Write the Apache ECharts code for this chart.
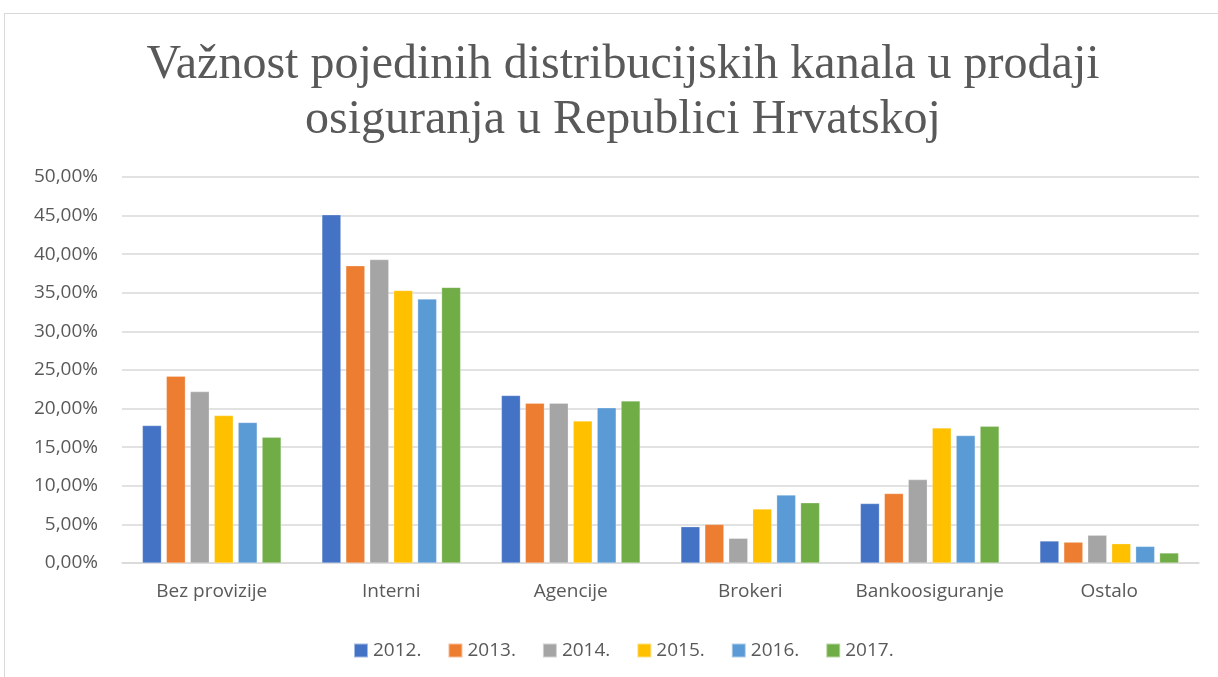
<!DOCTYPE html>
<html>
<head>
<meta charset="utf-8">
<title>Važnost distribucijskih kanala</title>
<script src="https://cdn.jsdelivr.net/npm/echarts@6/dist/echarts.min.js"></script>
<style>
  html, body { margin: 0; padding: 0; background: #fff; }
  #frame { position: absolute; left: 4px; top: 13px; width: 1214px; height: 664px;
    border-left: 1px solid #d9d9d9; border-top: 1px solid #d9d9d9; box-sizing: border-box; }
  #chart { position: absolute; left: 0; top: 0; width: 1218px; height: 677px; }
</style>
</head>
<body>
<div id="frame"></div>
<div id="chart"></div>
<script>
// kanali prodaje
var categories = ['Bez provizije', 'Interni', 'Agencije', 'Brokeri', 'Bankoosiguranje', 'Ostalo']
var years = ['2012.', '2013.', '2014.', '2015.', '2016.', '2017.']
var colors = ['#4472c4', '#ed7d31', '#a5a5a5', '#ffc000', '#5b9bd5', '#70ad47']

// udio u %, po godinama
var v2012 = [17.8, 45.1, 21.7, 4.7, 7.7, 2.85]
var v2013 = [24.2, 38.5, 20.7, 5.0, 9.0, 2.7]
var v2014 = [22.2, 39.3, 20.7, 3.2, 10.8, 3.6]
var v2015 = [19.1, 35.3, 18.4, 7.0, 17.5, 2.5]
var v2016 = [18.2, 34.2, 20.1, 8.8, 16.5, 2.15]
var v2017 = [16.3, 35.7, 21.0, 7.8, 17.7, 1.3]
var values = [v2012, v2013, v2014, v2015, v2016, v2017]

var textColor = '#595959'
var font = '"Open Sans", "Noto Sans", sans-serif'

var myChart = echarts.init(document.getElementById('chart'))
myChart.setOption({
  animation: false,
  title: {
    text: 'Važnost pojedinih distribucijskih kanala u prodaji\nosiguranja u Republici Hrvatskoj',
    left: 618,
    textAlign: 'center',
    top: 33,
    textStyle: {
      fontFamily: '"Liberation Serif", "DejaVu Serif", serif',
      fontSize: 48,
      fontWeight: 'normal',
      color: textColor,
      lineHeight: 55
    }
  },
  legend: {
    top: 636,
    left: 348,
    itemWidth: 14,
    itemHeight: 14,
    itemGap: 26,
    icon: 'rect',
    textStyle: { fontFamily: font, fontSize: 19, color: textColor },
    data: years
  },
  grid: {
    left: 122,
    right: 19,
    top: 177,
    bottom: 114
  },
  xAxis: {
    type: 'category',
    data: categories,
    axisTick: { show: false },
    axisLine: { lineStyle: { color: '#d9d9d9', width: 1.5 } },
    axisLabel: { interval: 0, fontFamily: font, fontSize: 19, color: textColor, margin: 19 }
  },
  yAxis: {
    type: 'value',
    min: 0,
    max: 50,
    interval: 5,
    axisLine: { show: false },
    axisTick: { show: false },
    axisLabel: {
      fontFamily: font,
      fontSize: 19,
      color: textColor,
      margin: 24,
      formatter: function (v) {
        return v.toFixed(2).replace('.', ',') + '%'
      }
    },
    splitLine: { lineStyle: { color: '#d9d9d9', width: 1.5 } }
  },
  series: years.map(function (y, i) {
    return {
      name: y,
      type: 'bar',
      data: values[i],
      barWidth: 19,
      barGap: '26%',
      itemStyle: {
        color: colors[i],
        borderColor: 'rgba(255,255,255,0.5)',
        borderWidth: 0.5
      }
    }
  })
})
</script>
</body>
</html>
